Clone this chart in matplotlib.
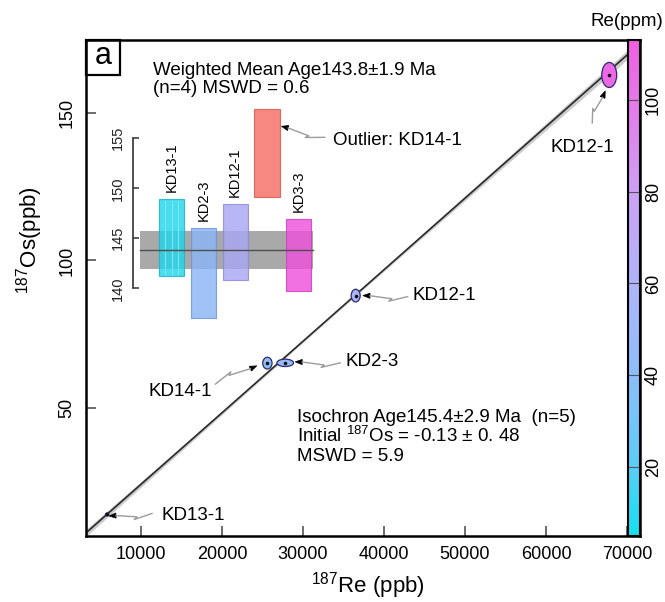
import numpy as np
import matplotlib
matplotlib.use("Agg")
import matplotlib.pyplot as plt
from matplotlib.patches import Ellipse, Rectangle, Polygon
from matplotlib.lines import Line2D
from matplotlib.colors import LinearSegmentedColormap, Normalize
from matplotlib.cm import ScalarMappable

plt.rcParams["font.family"] = ["Liberation Sans", "DejaVu Sans"]
plt.rcParams["mathtext.fontset"] = "custom"
plt.rcParams["mathtext.rm"] = "Liberation Sans"

# ---------------- Re-Os isochron data ----------------
samples = ["KD13-1", "KD14-1", "KD2-3", "KD12-1", "KD12-1"]
re187 = [5800, 25600, 27800, 36500, 67800]        # 187Re (ppb)
os187 = [13.9, 65.2, 65.3, 88.1, 162.9]           # 187Os (ppb)
re187_err = [185, 575, 1030, 555, 925]            # ellipse half-widths (ppb)
os187_err = [0.5, 2.0, 1.25, 2.15, 4.25]          # ellipse half-heights (ppb)
re_ppm = [9.2, 40.8, 44.3, 58.2, 108.0]           # total Re (ppm), colour scale

iso_age, iso_age_err, iso_n = 145.4, 2.9, 5
os_initial, os_initial_err, iso_mswd = -0.13, 0.48, 5.9
decay_const = 1.666e-11                           # 187Re decay constant (1/yr)

# ---------------- weighted mean of model ages ----------------
wm_samples = ["KD13-1", "KD2-3", "KD12-1", "KD14-1", "KD3-3"]
wm_age = [145.1, 141.5, 144.6, 153.5, 143.3]
wm_err = [3.85, 4.5, 3.8, 4.4, 3.6]
wm_outlier = [False, False, False, True, False]
wm_face = ["#22d6ea", "#8ab6f4", "#aaa6f4", "#f56e64", "#ee52dc"]
wm_edge = ["#14b4cc", "#6a94d8", "#8c86dc", "#d85448", "#c83cbc"]
wm_mean, wm_mean_err, wm_n, wm_mswd = 143.8, 1.9, 4, 0.6

cbar_ticks = [20, 40, 60, 80, 100]
cbar_range = (5, 113)
x_ticks = [10000, 20000, 30000, 40000, 50000, 60000, 70000]
y_ticks = [50, 100, 150]

W, H = 665, 602
fig = plt.figure(figsize=(W / 100, H / 100), dpi=100)
TXT = 13.5


def to_fig(px, py):
    """pixel position (origin top-left) -> figure fraction"""
    return px / W, 1 - py / H


def rect(x0, y0, x1, y1):
    return [x0 / W, 1 - y1 / H, (x1 - x0) / W, (y1 - y0) / H]


def data_px(ax, x, y):
    dx, dy = ax.transData.transform((x, y))
    return np.array([dx, H - dy])


# colour map for Re concentration
cmap_stops = [(5, (20, 225, 240)), (20, (90, 205, 248)), (40, (140, 190, 250)),
              (60, (175, 180, 250)), (80, (205, 160, 245)), (100, (230, 120, 232)),
              (113, (240, 95, 225))]
lo, hi = cbar_range
cmap = LinearSegmentedColormap.from_list(
    "re_ppm", [((v - lo) / (hi - lo), tuple(c / 255 for c in rgb)) for v, rgb in cmap_stops])
norm = Normalize(lo, hi)

# ---------------- main isochron axes ----------------
ax = fig.add_axes(rect(86, 40, 640, 536))
ax.set_xlim(3210, 71600)
ax.set_ylim(6.6, 174.75)

slope = np.exp(decay_const * iso_age * 1e6) - 1
xx = np.linspace(0, 75000, 400)
yy = os_initial + slope * xx
half = np.sqrt(0.4 ** 2 + (4.0e-5 * (xx - 32000)) ** 2)   # confidence envelope
ax.fill_between(xx, yy - half, yy + half, color="#cbcbcb", lw=0, zorder=1)
ax.plot(xx, yy, color="#2a2a2a", lw=1.2, zorder=2)

for x, y, ex, ey, c in zip(re187, os187, re187_err, os187_err, re_ppm):
    ax.add_patch(Ellipse((x, y), 2 * ex, 2 * ey, facecolor=cmap(norm(c)),
                         edgecolor="#2b2b6e", lw=0.9, zorder=3))
ax.plot(re187, os187, "o", ms=1.6, color="#111111", zorder=4)

ax.set_xticks(x_ticks)
ax.set_yticks(y_ticks)
ax.tick_params(direction="in", length=7.5, width=1.1, color="#444444",
               labelsize=13, top=False, right=False)
ax.tick_params(axis="x", pad=7)
ax.tick_params(axis="y", pad=7.5, labelrotation=90)
for lbl in ax.get_yticklabels():
    lbl.set_va("center")
for s in ax.spines.values():
    s.set_linewidth(1.8)

# panel tag
ax.add_patch(Rectangle(to_fig(86, 75), 34 / W, 35 / H, transform=fig.transFigure,
                       fill=False, lw=1.6, ec="black", zorder=5, clip_on=False))
fig.text(*to_fig(103, 56), "a", fontsize=22, ha="center", va="center")

fig.text(*to_fig(368, 586), r"$\mathregular{^{187}}$Re (ppb)", fontsize=16,
         ha="center", va="center")
fig.text(*to_fig(30, 240), r"$\mathregular{^{187}}$Os(ppb)", fontsize=16,
         ha="center", va="center", rotation=90)

# isochron result text
iso_lines = [
    f"Isochron Age{iso_age}\u00b1{iso_age_err} Ma  (n={iso_n})",
    r"Initial $\mathregular{^{187}}$Os = " + f"{os_initial:.2f} \u00b1 "
    + f"{os_initial_err:.2f}".replace(".", ". "),
    f"MSWD = {iso_mswd}",
]
for i, s in enumerate(iso_lines):
    fig.text(*to_fig(297, 422 + 19.5 * i), s, fontsize=TXT, ha="left", va="baseline")

# weighted mean text
fig.text(*to_fig(153, 75), f"Weighted Mean Age{wm_mean}\u00b1{wm_mean_err} Ma",
         fontsize=TXT, ha="left", va="baseline")
fig.text(*to_fig(153, 93), f"(n={wm_n}) MSWD = {wm_mswd}",
         fontsize=TXT, ha="left", va="baseline")


def callout(tip, end, color="#9c9c9c"):
    tip = np.asarray(tip, float)
    end = np.asarray(end, float)
    u = (end - tip) / np.hypot(*(end - tip))
    n = np.array([-u[1], u[0]])
    base = tip + 7 * u
    head = [tip, base + 2.6 * n, base - 2.6 * n]
    seg = end - base
    path = [base, base + 0.58 * seg + 2.5 * n, base + 0.5 * seg + 5 * n, end]
    fig.add_artist(Polygon([to_fig(*p) for p in head], closed=True,
                           transform=fig.transFigure, fc="black", ec="black", lw=0.5))
    xs, ys = zip(*[to_fig(*p) for p in path])
    fig.add_artist(Line2D(xs, ys, transform=fig.transFigure, color=color, lw=1.0))


# sample call-outs: (tip offset, line end offset, text offset, ha) in pixels
callouts = [
    ((2, 1.5), (45, -1), (55, 1.5), "left"),
    ((-10.6, 2.7), (-52, 21), (-55, 28.7), "right"),
    ((10, -1), (55, 0), (60, -1), "left"),
    ((7.3, 0), (52, 1), (57, 0), "left"),
    ((-4, 16), (-17, 48), (-27, 73), "center"),
]
for name, x, y, (tip, end, txt, ha) in zip(samples, re187, os187, callouts):
    c = data_px(ax, x, y)
    callout(c + tip, c + end)
    fig.text(*to_fig(*(c + txt)), name, fontsize=TXT, ha=ha, va="center")

# ---------------- colour bar ----------------
cax = fig.add_axes(rect(628, 40, 640, 536))
cb = fig.colorbar(ScalarMappable(norm=norm, cmap=cmap), cax=cax)
cb.set_ticks(cbar_ticks)
cb.outline.set_linewidth(1.5)
cax.tick_params(direction="in", length=8.6, width=0.8, color="#555555",
                labelsize=13, pad=3.5, labelrotation=90)
for lbl in cax.get_yticklabels():
    lbl.set_va("center")
fig.text(*to_fig(627, 22), "Re(ppm)", fontsize=TXT, ha="center", va="center")

# ---------------- weighted mean inset ----------------
axi = fig.add_axes(rect(133.3, 95, 320, 330))
axi.patch.set_alpha(0)
axi.set_xlim(-0.211, 5.67)
axi.set_ylim(135.83, 159.33)
for k in ["top", "right", "bottom"]:
    axi.spines[k].set_visible(False)
axi.spines["left"].set_bounds(140, 155)
axi.spines["left"].set_linewidth(1.2)
axi.spines["left"].set_color("#333333")
axi.set_xticks([])
axi.set_yticks([140, 145, 150, 155])
axi.tick_params(axis="y", direction="in", length=4, width=1.1, color="#333333",
                labelsize=10.5, pad=6, labelrotation=90, labelcolor="#222222")
for lbl in axi.get_yticklabels():
    lbl.set_va("center")

band_x = [0, 5.44]
axi.fill_between(band_x, wm_mean - wm_mean_err, wm_mean + wm_mean_err,
                 color="#a9a9a9", lw=0, zorder=1)
pos = np.arange(1, len(wm_age) + 1)
axi.bar(pos, [2 * e for e in wm_err], bottom=[a - e for a, e in zip(wm_age, wm_err)],
        width=0.8, color=wm_face, edgecolor=wm_edge, lw=0.8, alpha=0.82, zorder=2)
# faint vertical streaks in the first bar
p0, a0, e0 = pos[0], wm_age[0], wm_err[0]
for dx in (-0.2, 0.0, 0.2):
    axi.plot([p0 + dx, p0 + dx], [a0 - e0 + 0.2, a0 + e0 - 0.2], color="#8ff0fa",
             lw=0.8, alpha=0.7, zorder=3)
axi.plot(band_x, [wm_mean, wm_mean], color="#505050", lw=1.0, zorder=4)
for p, name, a, e, out in zip(pos, wm_samples, wm_age, wm_err, wm_outlier):
    if not out:
        axi.text(p, a + e + 0.7, name, rotation=90, ha="center", va="bottom",
                 fontsize=10.5)
    else:
        c = data_px(axi, p + 0.4, a + e)
        callout(c + (1.7, 17), c + (45, 28))
        fig.text(*to_fig(*(c + (53, 31))), f"Outlier: {name}", fontsize=TXT,
                 ha="left", va="center")

fig.savefig("out.png", dpi=100)
